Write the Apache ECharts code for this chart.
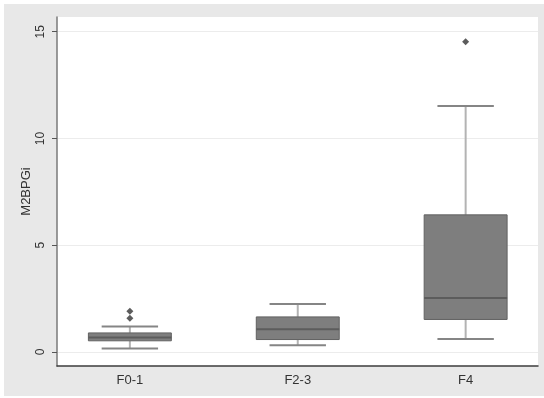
<!DOCTYPE html>
<html>
<head>
<meta charset="utf-8">
<script src="https://cdn.jsdelivr.net/npm/echarts@6/dist/echarts.min.js"></script>
<style>
  html, body { margin: 0; padding: 0; background: #ffffff; }
  #chart { width: 544px; height: 398px; }
</style>
</head>
<body>
<div id="chart"></div>
<script>
// Fibrosis stage groups and M2BPGi five-number summaries
const categories = ['F0-1', 'F2-3', 'F4'];
const lowerWhisker = [0.16, 0.31, 0.60];
const quartile1    = [0.52, 0.58, 1.52];
const medians      = [0.68, 1.06, 2.53];
const quartile3    = [0.89, 1.64, 6.42];
const upperWhisker = [1.19, 2.25, 11.52];
// Outliers as [group index, value]
const outliers = [[0, 1.58], [0, 1.91], [2, 14.53]];
const yTicks = [0, 5, 10, 15];

const boxData = categories.map((c, i) => [i + 1, lowerWhisker[i], quartile1[i], medians[i], quartile3[i], upperWhisker[i]]);
const outlierData = outliers.map(o => [o[0] + 1, o[1]]);

const BOX_HALF = 0.247;
const CAP_HALF = 0.168;

function renderBox(params, api) {
  const x = api.value(0);
  const lo = api.value(1), q1 = api.value(2), med = api.value(3), q3 = api.value(4), hi = api.value(5);
  const pLo = api.coord([x, lo]);
  const pQ1 = api.coord([x, q1]);
  const pMed = api.coord([x, med]);
  const pQ3 = api.coord([x, q3]);
  const pHi = api.coord([x, hi]);
  const boxL = api.coord([x - BOX_HALF, q3])[0];
  const boxR = api.coord([x + BOX_HALF, q3])[0];
  const capL = api.coord([x - CAP_HALF, hi])[0];
  const capR = api.coord([x + CAP_HALF, hi])[0];
  const whisker = { stroke: '#b3b3b3', lineWidth: 2 };
  const cap = { stroke: '#858585', lineWidth: 2 };
  return {
    type: 'group',
    children: [
      { type: 'line', shape: { x1: pHi[0], y1: pHi[1], x2: pQ3[0], y2: pQ3[1] }, style: whisker },
      { type: 'line', shape: { x1: pQ1[0], y1: pQ1[1], x2: pLo[0], y2: pLo[1] }, style: whisker },
      { type: 'line', shape: { x1: capL, y1: pHi[1], x2: capR, y2: pHi[1] }, style: cap },
      { type: 'line', shape: { x1: capL, y1: pLo[1], x2: capR, y2: pLo[1] }, style: cap },
      { type: 'rect', shape: { x: boxL, y: pQ3[1], width: boxR - boxL, height: pQ1[1] - pQ3[1] },
        style: { fill: '#7e7e7e', stroke: '#626262', lineWidth: 1 } },
      { type: 'line', shape: { x1: boxL, y1: pMed[1], x2: boxR, y2: pMed[1] },
        style: { stroke: '#5c5c5c', lineWidth: 2 } }
    ]
  };
}

const chart = echarts.init(document.getElementById('chart'), null, { renderer: 'canvas' });
chart.setOption({
  animation: false,
  backgroundColor: '#ffffff',
  graphic: [{
    type: 'rect', z: -10, silent: true,
    shape: { x: 4, y: 4, width: 540, height: 392 },
    style: { fill: '#e8e8e8' }
  }],
  grid: {
    left: 57, top: 17, right: 6, bottom: 32,
    show: true, backgroundColor: '#ffffff', borderWidth: 0
  },
  xAxis: {
    type: 'value',
    min: 0.566, max: 3.431,
    axisLine: { show: true, onZero: false, lineStyle: { color: '#3c3c3c', width: 1.5 } },
    axisTick: { show: false },
    splitLine: { show: false },
    axisLabel: {
      customValues: [1, 2, 3],
      formatter: v => categories[Math.round(v) - 1] || '',
      color: '#333333', fontFamily: 'Liberation Sans', fontSize: 13, margin: 8
    }
  },
  yAxis: {
    type: 'value',
    min: -0.66, max: 15.69,
    name: 'M2BPGi',
    nameLocation: 'middle',
    nameGap: 24,
    nameMoveOverlap: false,
    nameTextStyle: { color: '#333333', fontFamily: 'Liberation Sans', fontSize: 13 },
    axisLine: { show: true, onZero: false, lineStyle: { color: '#7a7a7a', width: 1.5 } },
    axisTick: { show: true, customValues: yTicks, length: 5, lineStyle: { color: '#555555' } },
    axisLabel: {
      customValues: yTicks, rotate: 90,
      color: '#333333', fontFamily: 'Liberation Sans', fontSize: 12, margin: 10
    },
    splitLine: { show: true, lineStyle: { color: '#ececec', width: 1 } }
  },
  series: [
    {
      type: 'custom',
      renderItem: renderBox,
      data: boxData,
      encode: { x: 0, y: [1, 2, 3, 4, 5] },
      z: 3
    },
    {
      type: 'scatter',
      data: outlierData,
      symbol: 'diamond',
      symbolSize: 7,
      itemStyle: { color: '#333333' },
      z: 4
    }
  ]
});
</script>
</body>
</html>
